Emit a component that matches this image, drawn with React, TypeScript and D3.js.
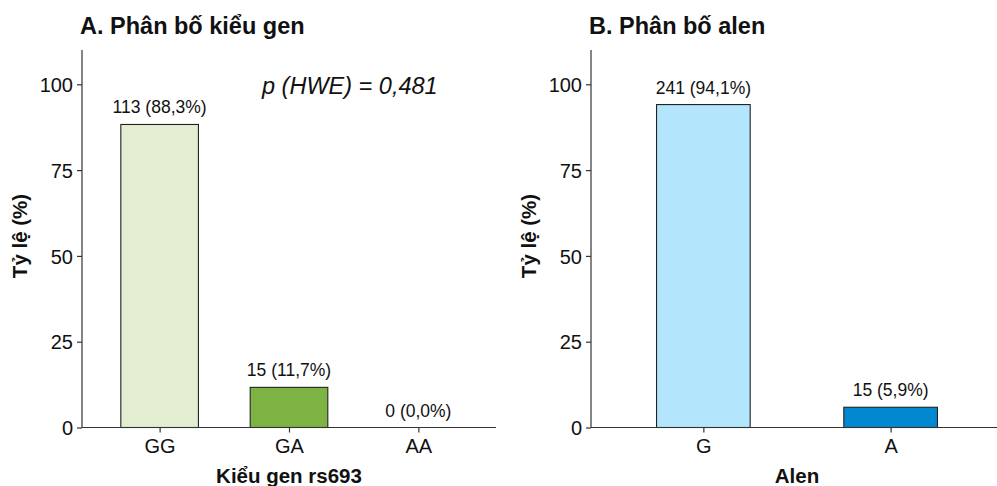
import React, { useRef, useEffect } from 'react';
import * as d3 from 'd3';

const genotypes = ['GG', 'GA', 'AA'];
const genotypeCounts = [113, 15, 0];
const genotypePct = [88.3, 11.7, 0.0];
const genotypeColors = ['#E2EDD2', '#7CB342', '#7CB342'];

const alleles = ['G', 'A'];
const alleleCounts = [241, 15];
const allelePct = [94.1, 5.9];
const alleleColors = ['#B3E5FC', '#0288D1'];

const yTicks = [0, 25, 50, 75, 100];
const hweText = 'p (HWE) = 0,481';

const W = 997;
const H = 486;
const FONT = '"Liberation Sans", Arial, sans-serif';

const fmt = (n: number, p: number) => `${n} (${p.toFixed(1).replace('.', ',')}%)`;

const drawPanel = (svg: any, opts: any) => {
  const { x0, x1, cats, counts, pct, colors, barWidth, title, xTitle, titleX } = opts;
  const top = 50;
  const bottom = 427.5;

  const yScale = d3.scaleLinear().domain([0, 110]).range([bottom, top]);
  const n = cats.length;
  const step = (x1 - x0) / (n + 0.2);
  const xPos = d3.scalePoint().domain(cats).range([x0 + 0.6 * step, x1 - 0.6 * step]);

  const g = svg.append('g');

  // bars
  cats.forEach((c: string, i: number) => {
    const cx = xPos(c) as number;
    if (pct[i] > 0) {
      g.append('rect')
        .attr('x', cx - (barWidth * step) / 2)
        .attr('y', yScale(pct[i]))
        .attr('width', barWidth * step)
        .attr('height', bottom - yScale(pct[i]))
        .attr('fill', colors[i])
        .attr('stroke', '#222')
        .attr('stroke-width', 1.1);
    }
    g.append('text')
      .attr('x', cx)
      .attr('y', yScale(pct[i]) - 11)
      .attr('text-anchor', 'middle')
      .attr('font-family', FONT)
      .attr('font-size', 17.5)
      .attr('fill', '#111')
      .text(fmt(counts[i], pct[i]));
  });

  // axes
  const yAxis = d3.axisLeft(yScale).tickValues(yTicks).tickSize(5).tickPadding(4);
  const ya = g.append('g').attr('transform', `translate(${x0},0)`).call(yAxis);
  ya.select('.domain').attr('d', `M0,${top}V${bottom}`);
  const xAxis = d3.axisBottom(xPos).tickSize(5).tickPadding(6);
  const xa = g.append('g').attr('transform', `translate(0,${bottom})`).call(xAxis);
  xa.select('.domain').attr('d', `M${x0},0H${x1}`);
  [ya, xa].forEach((a: any) => {
    a.selectAll('.domain').attr('stroke', '#333').attr('stroke-width', 1.2);
    a.selectAll('.tick line').attr('stroke', '#333').attr('stroke-width', 1.2);
    a.selectAll('.tick text')
      .attr('font-family', FONT)
      .attr('font-size', 20)
      .attr('fill', '#111');
  });
  ya.selectAll('.tick text').attr('dy', '0.36em');

  // titles
  g.append('text')
    .attr('x', x0 - 2)
    .attr('y', 34)
    .attr('font-family', FONT)
    .attr('font-size', 23.5)
    .attr('font-weight', 'bold')
    .attr('fill', '#111')
    .text(title);

  g.append('text')
    .attr('transform', `translate(${x0 - 55},236) rotate(-90)`)
    .attr('text-anchor', 'middle')
    .attr('font-family', FONT)
    .attr('font-size', 20.5)
    .attr('font-weight', 'bold')
    .attr('fill', '#111')
    .text('Tỷ lệ (%)');

  g.append('text')
    .attr('x', titleX)
    .attr('y', 483)
    .attr('text-anchor', 'middle')
    .attr('font-family', FONT)
    .attr('font-size', 20.5)
    .attr('font-weight', 'bold')
    .attr('fill', '#111')
    .text(xTitle);

  return { yScale, g };
};

export default function App() {
  const svgRef = useRef<SVGSVGElement>(null);

  useEffect(() => {
    if (!svgRef.current) return;
    const svg = d3.select(svgRef.current);
    svg.selectAll('*').remove();

    svg.append('rect').attr('width', W).attr('height', H).attr('fill', '#fff');

    const a = drawPanel(svg, {
      x0: 82, x1: 496, cats: genotypes, counts: genotypeCounts, pct: genotypePct,
      colors: genotypeColors, barWidth: 0.6, title: 'A. Phân bố kiểu gen',
      xTitle: 'Kiểu gen rs693', titleX: 289
    });
    a.g.append('text')
      .attr('x', 262)
      .attr('y', 94)
      .attr('font-family', FONT)
      .attr('font-size', 23.5)
      .attr('font-style', 'italic')
      .attr('fill', '#111')
      .text(hweText);

    drawPanel(svg, {
      x0: 591, x1: 1003, cats: alleles, counts: alleleCounts, pct: allelePct,
      colors: alleleColors, barWidth: 0.5, title: 'B. Phân bố alen',
      xTitle: 'Alen', titleX: 797
    });
  }, []);

  return (
    <svg
      ref={svgRef}
      width={W}
      height={H}
      style={{ position: 'absolute', left: 0, top: 0 }}
    />
  );
}
